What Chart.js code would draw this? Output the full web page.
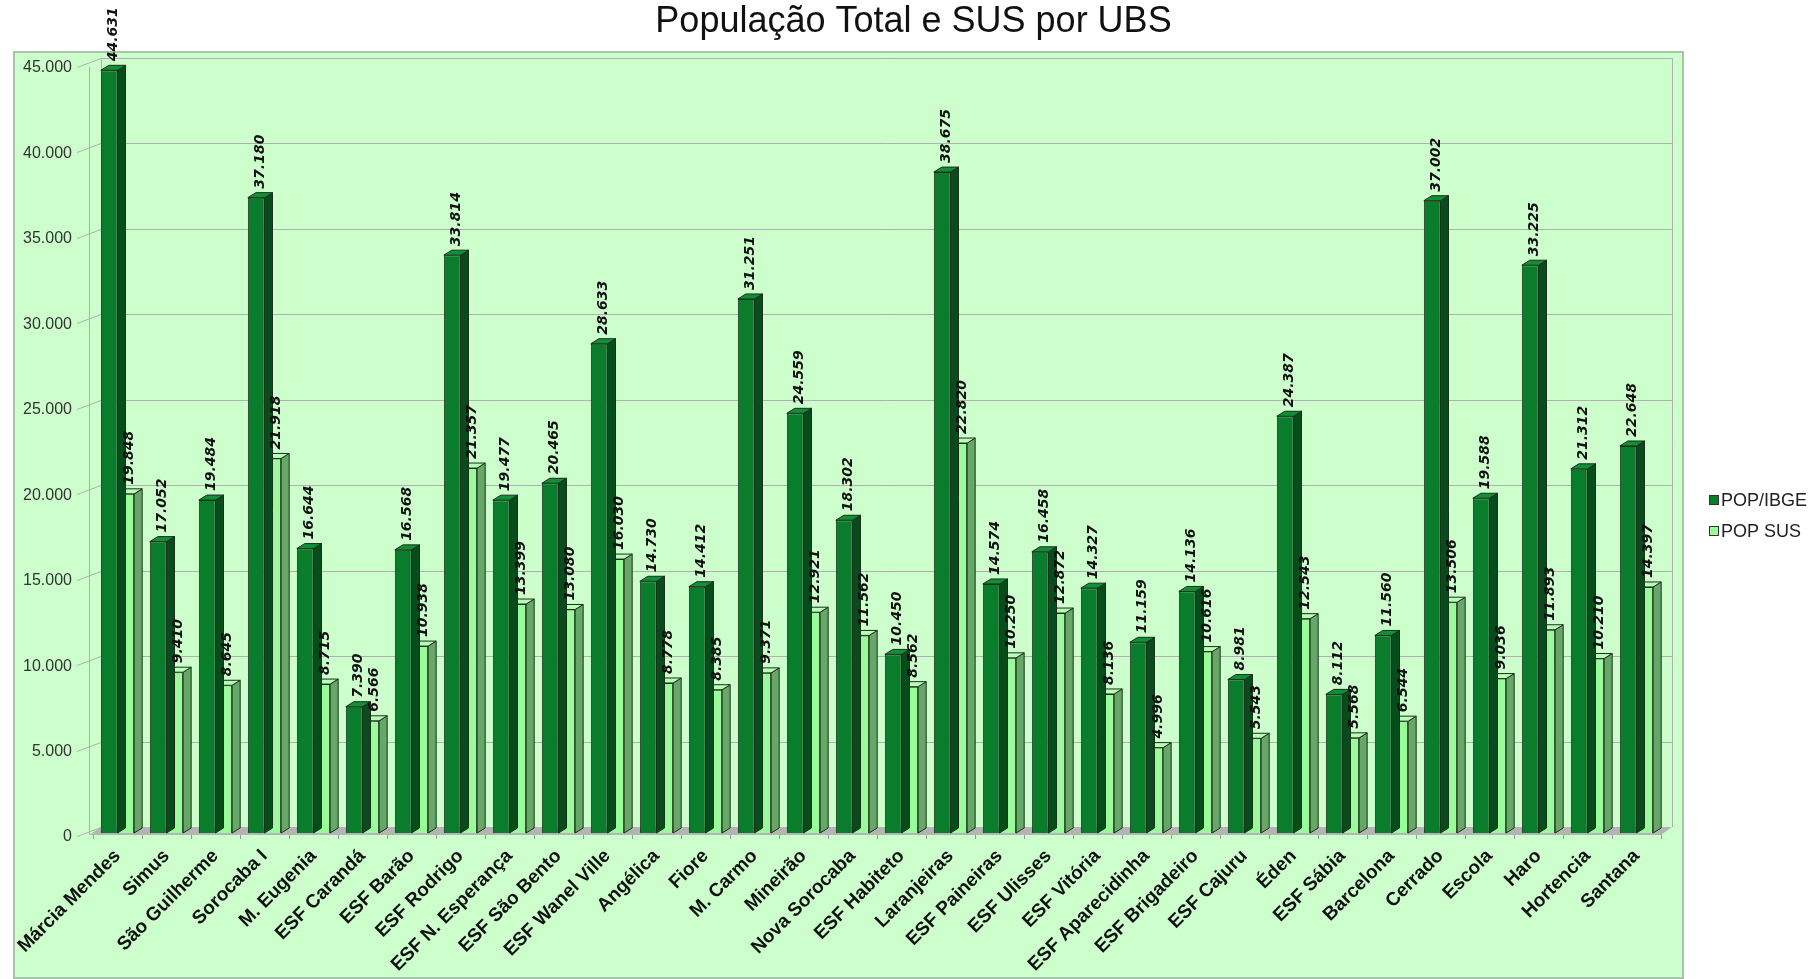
<!DOCTYPE html>
<html lang="pt-BR">
<head>
<meta charset="utf-8">
<title>População Total e SUS por UBS</title>
<script src="https://cdn.jsdelivr.net/npm/chart.js@4.4.1/dist/chart.umd.min.js"></script>
<style>
    html, body { margin: 0; padding: 0; background: #fff; }
    canvas { display: block; }
</style>
</head>
<body>
<canvas id="grafico-ubs" width="1814" height="979"></canvas>
<script>
// dados
const ubs = [
    'Márcia Mendes', 'Simus', 'São Guilherme', 'Sorocaba I', 'M. Eugenia', 'ESF Carandá',
    'ESF Barão', 'ESF Rodrigo', 'ESF N. Esperança', 'ESF São Bento', 'ESF Wanel Ville',
    'Angélica', 'Fiore', 'M. Carmo', 'Mineirão', 'Nova Sorocaba', 'ESF Habiteto',
    'Laranjeiras', 'ESF Paineiras', 'ESF Ulisses', 'ESF Vitória', 'ESF Aparecidinha',
    'ESF Brigadeiro', 'ESF Cajuru', 'Éden', 'ESF Sábia', 'Barcelona', 'Cerrado',
    'Escola', 'Haro', 'Hortencia', 'Santana'
];
const popIbge = [
    44631, 17052, 19484, 37180, 16644, 7390, 16568, 33814, 19477, 20465, 28633,
    14730, 14412, 31251, 24559, 18302, 10450, 38675, 14574, 16458, 14327, 11159,
    14136, 8981, 24387, 8112, 11560, 37002, 19588, 33225, 21312, 22648
];
const popSus = [
    19848, 9410, 8645, 21918, 8715, 6566, 10938, 21357, 13399, 13080, 16030,
    8778, 8385, 9371, 12921, 11562, 8562, 22820, 10250, 12872, 8136, 4996,
    10616, 5543, 12543, 5568, 6544, 13506, 9036, 11893, 10210, 14397
];
const series = ['POP/IBGE', 'POP SUS'];
const yMax = 45000;
const yStep = 5000;

const corFrente = ['#0a7d2d', '#99fb99'];
const corLado = ['#064d1b', '#66a866'];
const corTopo = ['#0e9036', '#b8ffb8'];

const fmt = v => Number(v).toLocaleString('pt-BR');

// profundidade do efeito 3D
const D = 8, E = 5;

const efeito3d = {
    id: 'efeito3d',
    afterLayout(chart) {
        // título centrado na largura toda, como no original
        chart.titleBlock.right += 166;
    },
    beforeDraw(chart) {
        const { ctx } = chart;
        ctx.save();
        ctx.fillStyle = '#ffffff';
        ctx.fillRect(0, 0, chart.width, chart.height);
        ctx.fillStyle = '#ccffcc';
        ctx.fillRect(14, 52, 1669, 926);
        ctx.strokeStyle = '#a9c4a9';
        ctx.lineWidth = 2;
        ctx.strokeRect(14, 52, 1669, 926);
        ctx.restore();
    },
    beforeDatasetsDraw(chart) {
        const { ctx, chartArea: a, scales: { y } } = chart;
        const fl = a.left - 4, bl = a.left + 8, br = a.right + 11;
        ctx.save();
        // chão
        ctx.fillStyle = '#b4b4b4';
        ctx.beginPath();
        ctx.moveTo(fl, y.getPixelForValue(0) + 2);
        ctx.lineTo(a.right, y.getPixelForValue(0) + 2);
        ctx.lineTo(br, y.getPixelForValue(0) - 6);
        ctx.lineTo(bl, y.getPixelForValue(0) - 6);
        ctx.closePath();
        ctx.fill();
        // grade
        ctx.strokeStyle = '#b0b0b0';
        ctx.lineWidth = 1;
        y.ticks.forEach(t => {
            const py = Math.round(y.getPixelForValue(t.value)) + 0.5;
            ctx.beginPath();
            ctx.moveTo(fl - 12, py + 3);
            ctx.lineTo(bl, py - 6);
            if (t.value > 0) ctx.lineTo(br, py - 6);
            ctx.stroke();
        });
        const top = y.getPixelForValue(yMax), base = y.getPixelForValue(0);
        ctx.beginPath();
        ctx.moveTo(fl + 0.5, base + 2); ctx.lineTo(fl + 0.5, top + 3);
        ctx.moveTo(bl + 0.5, base - 6); ctx.lineTo(bl + 0.5, top - 6);
        ctx.moveTo(br + 0.5, base - 6); ctx.lineTo(br + 0.5, top - 6);
        ctx.stroke();
        ctx.restore();
    },
    afterDatasetDraw(chart, args) {
        const { ctx } = chart;
        const i = args.index;
        ctx.save();
        ctx.strokeStyle = '#1c2e1c';
        ctx.lineWidth = 1;
        args.meta.data.forEach(bar => {
            const r = bar.x + bar.width / 2, l = bar.x - bar.width / 2;
            ctx.fillStyle = corLado[i];
            ctx.beginPath();
            ctx.moveTo(r, bar.y);
            ctx.lineTo(r + D, bar.y - E);
            ctx.lineTo(r + D, bar.base - E);
            ctx.lineTo(r, bar.base);
            ctx.closePath();
            ctx.fill();
            ctx.stroke();
            ctx.fillStyle = corTopo[i];
            ctx.beginPath();
            ctx.moveTo(l, bar.y);
            ctx.lineTo(l + D, bar.y - E);
            ctx.lineTo(r + D, bar.y - E);
            ctx.lineTo(r, bar.y);
            ctx.closePath();
            ctx.fill();
            ctx.stroke();
        });
        ctx.restore();
    },
    afterDatasetsDraw(chart) {
        const { ctx } = chart;
        ctx.save();
        ctx.fillStyle = '#111';
        ctx.font = 'italic bold 14px "DejaVu Sans"';
        ctx.textAlign = 'left';
        ctx.textBaseline = 'middle';
        chart.data.datasets.forEach((ds, i) => {
            chart.getDatasetMeta(i).data.forEach((bar, j) => {
                ctx.save();
                ctx.translate(bar.x + D / 2, bar.y - E - 4);
                ctx.rotate(-Math.PI / 2);
                ctx.fillText(fmt(ds.data[j]), 0, 0);
                ctx.restore();
            });
        });
        // legenda
        ctx.font = '18px "Liberation Sans", Arial';
        ctx.textBaseline = 'middle';
        chart.data.datasets.forEach((ds, i) => {
            const ly = 500 + i * 31;
            ctx.fillStyle = corFrente[i];
            ctx.fillRect(1709.5, ly - 4.5, 9, 9);
            ctx.strokeStyle = '#333';
            ctx.strokeRect(1709.5, ly - 4.5, 9, 9);
            ctx.fillStyle = '#222';
            ctx.fillText(ds.label, 1721, ly + 1);
        });
        ctx.restore();
    }
};

const grafico = document.getElementById('grafico-ubs').getContext('2d');

new Chart(grafico, {
    type: 'bar',
    data: {
        labels: ubs,
        datasets: [
            {
                label: series[0],
                data: popIbge,
                backgroundColor: corFrente[0],
                borderColor: '#1c2e1c',
                borderWidth: 1
            },
            {
                label: series[1],
                data: popSus,
                backgroundColor: corFrente[1],
                borderColor: '#1c2e1c',
                borderWidth: 1
            }
        ]
    },
    options: {
        responsive: false,
        animation: false,
        devicePixelRatio: 1,
        categoryPercentage: 0.68,
        barPercentage: 1.0,
        layout: {
            padding: { top: 0, left: 0, right: 153, bottom: 0 }
        },
        plugins: {
            title: {
                display: true,
                text: 'População Total e SUS por UBS',
                color: '#111',
                font: { family: '"Liberation Sans", Arial', size: 36, weight: 'normal', lineHeight: 1.0 },
                padding: { top: 4, bottom: 24 }
            },
            legend: { display: false },
            tooltip: { enabled: false }
        },
        scales: {
            x: {
                afterFit: s => { s.height = 146; },
                grid: {
                    offset: true,
                    drawOnChartArea: false,
                    drawTicks: true,
                    tickLength: 6,
                    color: '#9a9a9a'
                },
                border: { display: false },
                ticks: {
                    autoSkip: false,
                    maxRotation: 45,
                    minRotation: 45,
                    padding: 6,
                    color: '#111',
                    font: { family: '"Liberation Sans", Arial', size: 19, weight: 'bold' }
                }
            },
            y: {
                min: 0,
                max: yMax,
                afterFit: s => { s.width = 93; },
                grid: { display: false, drawTicks: false },
                border: { display: false },
                ticks: {
                    stepSize: yStep,
                    padding: 21,
                    labelOffset: 4,
                    color: '#333',
                    font: { family: '"Liberation Sans", Arial', size: 16 },
                    callback: v => fmt(v)
                }
            }
        }
    },
    plugins: [efeito3d]
});
</script>
</body>
</html>
